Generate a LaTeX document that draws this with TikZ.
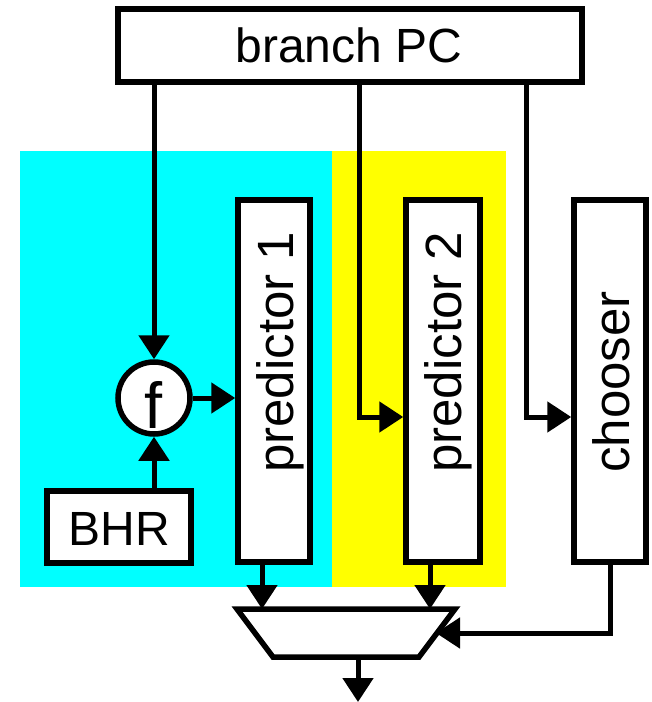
\documentclass[tikz,border=0pt]{standalone}
\usepackage{fontspec}
\setmainfont{Liberation Sans}
\usetikzlibrary{arrows.meta}
\definecolor{cy}{HTML}{00FFFF}
\definecolor{ye}{HTML}{FFFF00}
\begin{document}
\begin{tikzpicture}[x=1pt,y=-1pt,
  box/.style={draw,line width=5.5pt,fill=white,inner sep=0pt},
  arr/.style={line width=5pt,-{Triangle[length=24pt 0 0,width=30pt 0 0]}},
  htext/.style={font=\fontsize{48}{50}\selectfont,inner sep=0pt,anchor=base},
  vtext/.style={font=\fontsize{51}{53}\selectfont,inner sep=0pt,rotate=90,anchor=base west}]
\useasboundingbox (0,0) rectangle (652,702);
\fill[cy] (20,151) rectangle (332,587);
\fill[ye] (332,151) rectangle (506,587);
\node[box,minimum width=464pt,minimum height=73pt] (pc) at (350,45.5) {};
\node[htext] (pct) at (349,62) {branch PC};
\node[box,minimum width=72pt,minimum height=362pt] (p1) at (274,381) {};
\node[box,minimum width=74pt,minimum height=362pt] (p2) at (443,381) {};
\node[box,minimum width=72pt,minimum height=362pt] (ch) at (610,381) {};
\node[vtext] (p1t) at (293,473) {predictor 1};
\node[vtext] (p2t) at (461,473) {predictor 2};
\node[vtext] (cht) at (629,473) {chooser};
\node[box,minimum width=144pt,minimum height=72pt] (bhr) at (119,527) {};
\node[htext] (bhrt) at (119,545) {BHR};
\node[box,circle,minimum size=72pt] (f) at (154,398) {};
\node[htext,font=\fontsize{65}{67}\selectfont] (ft) at (154,428) {f};
% mux
\coordinate (m1) at (262,609);
\coordinate (m2) at (430,609);
\coordinate (mc) at (436,633);
\coordinate (mo) at (358,657);
\coordinate (out) at (358,702);
\draw[line width=5.5pt,fill=white,line join=miter] (237,609) -- (455,609) -- (419,657) -- (273,657) -- cycle;
% connectors
\coordinate (a2) at (359,417);
\coordinate (a3) at (526,417);
\draw[arr] (pc.south -| f.north) -- (f.north);
\draw[arr] (pc.south -| a2) |- (p2.west |- a2);
\draw[arr] (pc.south -| a3) |- (ch.west |- a3);
\draw[arr] (f.east) -- (p1.west |- f.east);
\draw[arr] (bhr.north -| f.south) -- (f.south);
\draw[arr] (p1.south -| m1) -- (m1);
\draw[arr] (p2.south -| m2) -- (m2);
\draw[arr] (ch.south) |- (mc);
\draw[arr] (mo) -- (out);
\end{tikzpicture}
\end{document}
